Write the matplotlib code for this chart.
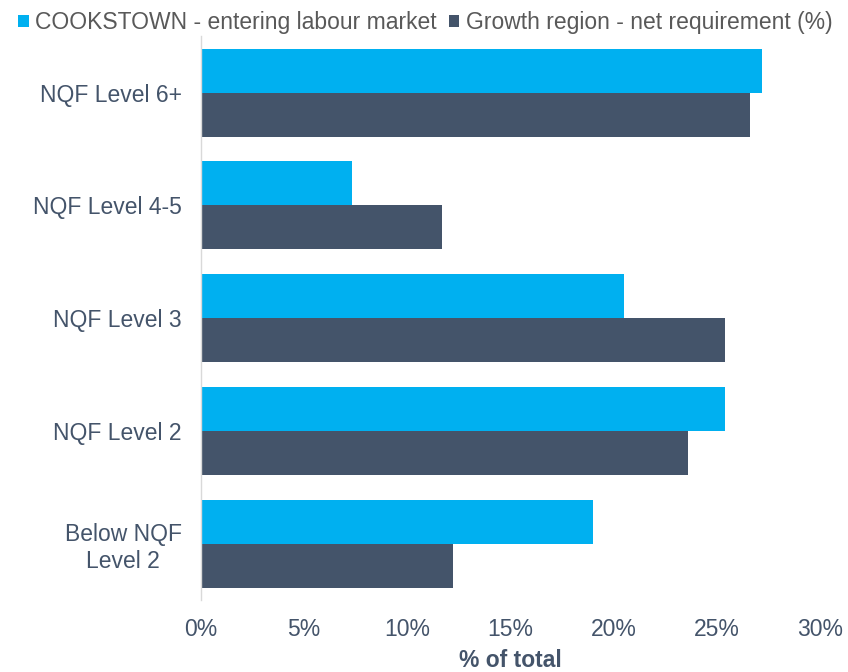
import numpy as np
import matplotlib
matplotlib.use("Agg")
import matplotlib.pyplot as plt
from matplotlib.ticker import FuncFormatter

plt.rcParams["font.family"] = ["Liberation Sans", "DejaVu Sans"]

# Qualification levels, top to bottom
categories = ["NQF Level 6+", "NQF Level 4-5", "NQF Level 3", "NQF Level 2",
              "Below NQF\nLevel 2"]
entering = [27.2, 7.3, 20.5, 25.4, 19.0]
requirement = [26.6, 11.7, 25.4, 23.6, 12.2]
series_names = ["COOKSTOWN - entering labour market",
                "Growth region - net requirement (%)"]
xticks = [0, 5, 10, 15, 20, 25, 30]

CYAN = "#00B0F0"
SLATE = "#44546A"
TEXT = "#44546A"
FS = 16.5

fig = plt.figure(figsize=(8.48, 6.72), dpi=100)
ax = fig.add_axes([0.237, 0.107, 0.730, 0.839])

y = np.arange(len(categories))
h = 0.39
ax.barh(y - h / 2, entering, height=h, color=CYAN, label=series_names[0])
ax.barh(y + h / 2, requirement, height=h, color=SLATE, label=series_names[1])

ax.set_ylim(len(categories) - 0.5, -0.5)
ax.set_xlim(0, 30)
ax.set_xticks(xticks)
ax.xaxis.set_major_formatter(FuncFormatter(lambda v, _: f"{v:.0f}%"))
ax.set_yticks(y)
ax.set_yticklabels(categories, ha="right", multialignment="center")
ax.tick_params(axis="y", length=0, pad=14, labelsize=FS, labelcolor=TEXT)
ax.tick_params(axis="x", length=0, pad=13, labelsize=FS, labelcolor=TEXT)

for side in ["top", "right", "bottom"]:
    ax.spines[side].set_visible(False)
ax.spines["left"].set_color("#D9D9D9")
ax.spines["left"].set_linewidth(1.0)

ax.set_xlabel("% of total", fontsize=FS, fontweight="bold", color=TEXT,
              labelpad=6)

leg = fig.legend(loc="upper left", bbox_to_anchor=(0.008, 1.0), ncol=2,
                 frameon=False, fontsize=FS, handlelength=0.45,
                 handleheight=0.45, handletextpad=0.3, columnspacing=0.5,
                 borderaxespad=0.1)
for t in leg.get_texts():
    t.set_color("#595959")

fig.savefig("out.png", dpi=100)
